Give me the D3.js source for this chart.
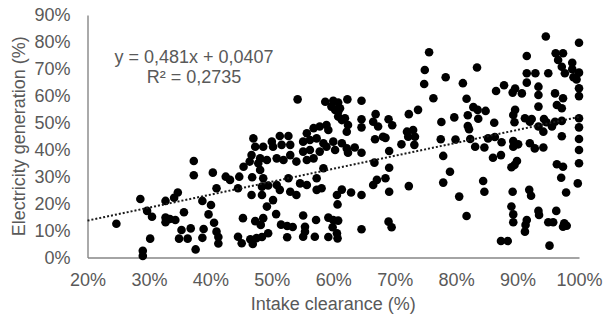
<!DOCTYPE html>
<html>
<head>
<meta charset="utf-8">
<script src="https://cdn.jsdelivr.net/npm/d3@7"></script>
<style>
    html, body { margin: 0; padding: 0; background: #fff; }
    .chart text { font-family: "Liberation Sans", Arial, sans-serif; fill: #595959; }
</style>
</head>
<body>
<div class="chart"></div>
<script>
// intake clearance (%) per plant
const intakeClearance = [
    24.7, 28.6, 29.0, 29.0, 29.7, 30.5, 30.2, 32.7, 32.7, 33.4,
    34.3, 32.7, 34.1, 34.7, 35.7, 35.3, 34.9, 36.3, 36.8, 37.6,
    37.3, 37.3, 38.7, 38.9, 38.7, 39.7, 40.1, 40.4, 40.6, 41.0,
    41.0, 41.3, 41.3, 42.5, 43.2, 44.7, 44.5, 45.4, 45.3, 44.5,
    45.1, 46.8, 46.7, 47.3, 46.5, 46.9, 47.5, 48.4, 48.1, 48.6,
    48.4, 48.4, 48.6, 48.2, 49.4, 49.2, 49.4, 50.2, 50.8, 51.3,
    50.7, 51.5, 52.5, 53.4, 52.5, 53.0, 54.0, 52.7, 54.6, 55.7,
    55.1, 55.4, 55.4, 55.1, 57.3, 58.1, 57.3, 58.4, 57.2, 57.0,
    59.2, 60.0, 60.8, 59.9, 59.2, 60.6, 60.7, 60.6, 61.4, 46.4,
    47.8, 46.7, 48.1, 49.2, 50.8, 51.9, 53.0, 54.0, 55.7, 56.8,
    47.0, 47.3, 48.6, 50.0, 50.2, 51.3, 52.7, 51.6, 53.0, 55.7,
    56.8, 57.8, 58.9, 59.2, 55.1, 56.2, 57.3, 58.4, 58.9, 55.1,
    56.2, 57.8, 60.0, 60.3, 54.2, 58.7, 59.7, 60.3, 60.8, 60.0,
    60.8, 61.1, 60.8, 61.4, 61.9, 62.4, 62.2, 62.3, 64.6, 64.6,
    64.6, 66.9, 66.5, 67.3, 69.0, 69.6, 61.4, 62.2, 62.4, 63.5,
    64.6, 66.8, 68.1, 68.5, 69.1, 66.7, 69.1, 67.1, 66.5, 68.5,
    69.1, 64.6, 62.9, 60.7, 64.6, 69.0, 69.5, 71.1, 72.0, 73.0,
    72.2, 73.3, 73.2, 72.3, 73.8, 72.3, 75.6, 74.9, 74.8, 76.3,
    78.3, 81.1, 79.7, 77.6, 77.5, 79.9, 77.9, 79.0, 77.9, 80.5,
    94.6, 100, 83.4, 91.5, 96.2, 97.4, 96.6, 97.2, 97.7, 98.9,
    98.9, 100, 99.1, 99.6, 91.5, 92.9, 95.0, 91.5, 87.8, 86.5,
    89.6, 89.2, 90.7, 93.4, 93.4, 96.1, 97.4, 96.4, 97.2, 100,
    100, 81.7, 82.8, 83.5, 84.8, 93.4, 89.6, 89.3, 81.9, 83.6,
    86.2, 89.5, 91.2, 92.3, 92.0, 94.3, 94.7, 96.1, 97.2, 100,
    100, 81.9, 82.1, 93.4, 94.2, 95.6, 82.3, 85.2, 86.3, 97.2,
    100, 83.1, 84.6, 87.4, 89.3, 90.1, 89.3, 92.0, 92.8, 94.2,
    100, 100, 86.0, 87.3, 89.9, 89.5, 89.0, 96.4, 97.4, 97.1,
    99.8, 84.4, 84.6, 89.2, 91.9, 92.2, 97.9, 81.7, 89.0, 89.3,
    89.3, 91.5, 91.3, 91.2, 93.4, 93.5, 96.3, 95.0, 95.8, 97.6,
    98.0, 97.4, 87.3, 88.4, 95.2
];

// electricity generation (%) per plant, same order
const electricityGeneration = [
    12.5, 21.7, 2.5, 0.6, 17.3, 15.1, 7.0, 21.0, 14.8, 14.3,
    13.9, 13.1, 22.2, 24.1, 16.8, 10.2, 7.0, 7.0, 10.8, 3.0,
    35.8, 30.5, 21.0, 10.6, 7.3, 16.0, 19.5, 31.5, 12.9, 25.7,
    9.6, 7.6, 5.2, 30.0, 28.8, 30.0, 25.7, 33.7, 14.6, 7.7,
    5.3, 29.8, 23.2, 13.5, 6.8, 5.0, 7.2, 7.6, 32.5, 29.4,
    26.3, 23.2, 14.6, 12.1, 26.7, 18.9, 9.0, 21.3, 26.9, 25.1,
    16.1, 12.2, 11.7, 11.3, 7.5, 24.4, 23.2, 29.4, 27.5, 26.9,
    15.6, 11.4, 9.6, 7.7, 25.1, 25.7, 29.4, 33.1, 13.9, 7.7,
    14.8, 13.9, 13.7, 11.2, 7.6, 9.0, 7.1, 23.2, 25.2, 35.6,
    35.0, 38.0, 36.8, 36.2, 36.8, 36.2, 38.0, 35.6, 36.2, 36.8,
    44.2, 41.1, 41.1, 43.0, 41.1, 45.1, 45.1, 41.8, 41.8, 46.1,
    48.0, 48.6, 49.2, 47.3, 43.0, 43.6, 44.2, 42.4, 41.1, 39.3,
    39.9, 39.3, 43.0, 39.9, 58.7, 57.8, 56.0, 54.8, 54.1, 58.2,
    57.5, 55.4, 52.3, 51.0, 51.7, 49.2, 46.7, 58.7, 58.2, 51.3,
    48.3, 53.2, 50.4, 48.6, 51.3, 49.1, 42.4, 40.5, 38.9, 40.8,
    38.9, 43.9, 44.8, 44.4, 39.5, 35.2, 33.3, 28.8, 26.9, 29.4,
    24.4, 23.2, 24.1, 19.7, 10.5, 13.3, 11.2, 42.0, 46.7, 47.3,
    44.8, 44.8, 41.8, 53.2, 54.8, 26.5, 76.2, 69.6, 64.4, 59.1,
    66.9, 64.7, 52.0, 50.3, 43.9, 43.8, 37.7, 31.8, 27.8, 22.6,
    82.0, 79.7, 70.5, 74.8, 75.8, 75.8, 73.3, 70.8, 68.4, 72.3,
    69.9, 68.6, 66.9, 66.1, 68.4, 68.4, 68.4, 64.9, 63.9, 61.8,
    62.7, 61.2, 60.9, 63.4, 60.3, 60.9, 59.1, 56.6, 55.4, 62.8,
    59.9, 58.9, 55.8, 54.8, 54.4, 56.0, 54.8, 52.9, 52.8, 51.5,
    50.0, 50.2, 51.7, 51.4, 50.4, 51.4, 50.2, 50.4, 50.7, 51.7,
    48.3, 48.8, 47.6, 48.6, 46.7, 48.6, 44.0, 44.2, 44.7, 45.0,
    44.0, 41.1, 40.8, 42.8, 43.2, 42.0, 41.1, 42.4, 40.5, 40.8,
    39.9, 35.0, 37.0, 38.0, 35.8, 34.3, 33.5, 34.6, 33.7, 29.6,
    27.5, 28.4, 24.4, 24.4, 25.1, 22.9, 24.1, 15.4, 18.9, 16.0,
    13.1, 13.9, 12.1, 9.6, 17.3, 15.8, 17.3, 13.1, 13.1, 12.7,
    11.8, 11.4, 6.1, 6.1, 4.4
];

const xTicks = [20, 30, 40, 50, 60, 70, 80, 90, 100];
const yTicks = [0, 10, 20, 30, 40, 50, 60, 70, 80, 90];

// linear trendline reported on the chart
const trendSlope = 0.481;
const trendIntercept = 0.0407;
const trendLabel = ['y = 0,481x + 0,0407', 'R² = 0,2735'];

const xTitle = 'Intake clearance (%)';
const yTitle = 'Electricity generation (%)';

const width = 608, height = 321;
const margin = { top: 15, right: 29, bottom: 63.5, left: 87.5 };

const svg = d3.select('.chart')
    .append('svg')
    .attr('width', width)
    .attr('height', height);

const x = d3.scaleLinear()
    .domain([20, 100])
    .range([margin.left, width - margin.right]);

const y = d3.scaleLinear()
    .domain([0, 90])
    .range([height - margin.bottom, margin.top]);

// axes: plain lines, no ticks
const xAxis = svg.append('g')
    .attr('transform', `translate(0,${y(0)})`)
    .call(d3.axisBottom(x).tickValues(xTicks).tickSize(0).tickPadding(16).tickFormat(d => d + '%'));

const yAxis = svg.append('g')
    .attr('transform', `translate(${x(20)},0)`)
    .call(d3.axisLeft(y).tickValues(yTicks).tickSize(0).tickPadding(17).tickFormat(d => d + '%'));

[xAxis, yAxis].forEach(a => {
    a.select('.domain').attr('stroke', '#868686').attr('stroke-width', 1.4);
    a.selectAll('text')
        .attr('font-size', 18)
        .attr('font-family', '"Liberation Sans", Arial, sans-serif')
        .attr('fill', '#595959');
});

// points
const data = intakeClearance.map((v, i) => ({ x: v, y: electricityGeneration[i] }));

svg.append('g')
    .selectAll('circle')
    .data(data)
    .enter()
    .append('circle')
    .attr('cx', d => x(d.x))
    .attr('cy', d => y(d.y))
    .attr('r', 4.3)
    .attr('fill', '#000');

// dotted trendline
const trendX = [20, 100];
svg.append('line')
    .attr('x1', x(trendX[0]))
    .attr('y1', y((trendSlope * trendX[0] / 100 + trendIntercept) * 100))
    .attr('x2', x(trendX[1]))
    .attr('y2', y((trendSlope * trendX[1] / 100 + trendIntercept) * 100))
    .attr('stroke', '#1a1a1a')
    .attr('stroke-width', 2)
    .attr('stroke-dasharray', '2,2');

// equation label
svg.append('text')
    .attr('x', 194)
    .attr('y', 63)
    .attr('text-anchor', 'middle')
    .attr('font-size', 18)
    .attr('fill', '#404040')
    .text(trendLabel[0]);

svg.append('text')
    .attr('x', 194)
    .attr('y', 83)
    .attr('text-anchor', 'middle')
    .attr('font-size', 18)
    .attr('fill', '#404040')
    .text(trendLabel[1]);

// axis titles
svg.append('text')
    .attr('x', (x(20) + x(100)) / 2)
    .attr('y', 310)
    .attr('text-anchor', 'middle')
    .attr('font-size', 18)
    .text(xTitle);

svg.append('text')
    .attr('transform', `translate(25,${(y(0) + y(90)) / 2}) rotate(-90)`)
    .attr('text-anchor', 'middle')
    .attr('font-size', 18)
    .text(yTitle);
</script>
</body>
</html>
